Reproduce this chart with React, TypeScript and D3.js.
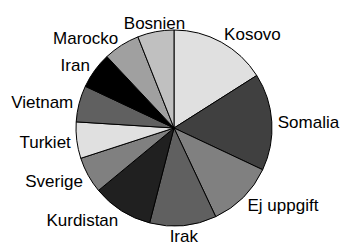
import { useMemo } from "react";
import * as d3 from "d3";

const WIDTH = 344;
const HEIGHT = 247;
const CENTER = { x: 174, y: 128 };
const RADIUS = 98;
// labels ride on a slightly tall ellipse around the rim
const LABEL_RX = 104;
const LABEL_RY = 108;
const LABEL_DROP = 1;

// slices in clockwise order from 12 o'clock
const countries = [
    "Kosovo",
    "Somalia",
    "Ej uppgift",
    "Irak",
    "Kurdistan",
    "Sverige",
    "Turkiet",
    "Vietnam",
    "Iran",
    "Marocko",
    "Bosnien",
];
const shares = [16, 16, 11, 11, 10, 6, 6, 6, 6, 6, 6];
const greys = [
    "#e0e0e0",
    "#404040",
    "#808080",
    "#606060",
    "#202020",
    "#808080",
    "#e0e0e0",
    "#606060",
    "#000000",
    "#a0a0a0",
    "#c0c0c0",
];

type Slice = { name: string; value: number; color: string };

const PieChart = () => {
    const data: Slice[] = countries.map((name, i) => ({
        name,
        value: shares[i],
        color: greys[i],
    }));

    const arcs = useMemo(() => {
        const pie = d3.pie<Slice>().sort(null).value((d) => d.value);
        return pie(data);
    }, []);

    const arcPath = d3.arc<d3.PieArcDatum<Slice>>().innerRadius(0).outerRadius(RADIUS);

    const slices = arcs.map((a, i) => (
        <path
            key={i}
            d={arcPath(a) || ""}
            fill={a.data.color}
            stroke="#000"
            strokeWidth={1}
            strokeLinejoin="round"
        />
    ));

    const labels = arcs.map((a, i) => {
        const mid = (a.startAngle + a.endAngle) / 2;
        const sx = Math.sin(mid);
        const x = LABEL_RX * sx;
        const y = -LABEL_RY * Math.cos(mid) + LABEL_DROP;
        const anchor = sx > 0.3 ? "start" : sx < -0.3 ? "end" : "middle";
        return (
            <text
                key={i}
                x={x}
                y={y}
                dy="0.35em"
                textAnchor={anchor}
                fontSize={17}
                fontFamily="'Liberation Sans', Arial, sans-serif"
                fill="#000"
            >
                {a.data.name}
            </text>
        );
    });

    return (
        <svg
            width={WIDTH}
            height={HEIGHT}
            style={{ position: "absolute", left: 0, top: 0, background: "white" }}
        >
            <g transform={`translate(${CENTER.x},${CENTER.y})`}>
                {slices}
                {labels}
            </g>
        </svg>
    );
};

export default function App() {
    return <PieChart />;
}
